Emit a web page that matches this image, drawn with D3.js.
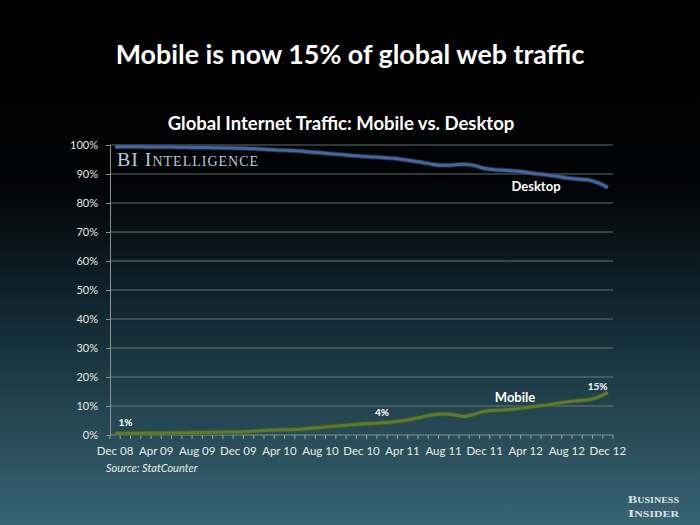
<!DOCTYPE html>
<html><head><meta charset="utf-8">
<script src="https://cdn.jsdelivr.net/npm/d3@7/dist/d3.min.js"></script>
<style>html,body{margin:0;padding:0;background:#000;}svg{display:block;}</style>
</head><body>
<script>
const months = ["Dec 08","Jan 09","Feb 09","Mar 09","Apr 09","May 09","Jun 09","Jul 09","Aug 09","Sep 09","Oct 09","Nov 09",
"Dec 09","Jan 10","Feb 10","Mar 10","Apr 10","May 10","Jun 10","Jul 10","Aug 10","Sep 10","Oct 10","Nov 10",
"Dec 10","Jan 11","Feb 11","Mar 11","Apr 11","May 11","Jun 11","Jul 11","Aug 11","Sep 11","Oct 11","Nov 11",
"Dec 11","Jan 12","Feb 12","Mar 12","Apr 12","May 12","Jun 12","Jul 12","Aug 12","Sep 12","Oct 12","Nov 12","Dec 12"];
const xTickLabels = ["Dec 08","Apr 09","Aug 09","Dec 09","Apr 10","Aug 10","Dec 10","Apr 11","Aug 11","Dec 11","Apr 12","Aug 12","Dec 12"];
const yTicks = [0,10,20,30,40,50,60,70,80,90,100];
const mobile = [0.6,0.6,0.6,0.65,0.7,0.7,0.75,0.8,0.85,0.9,0.95,1.0,
1.05,1.2,1.4,1.6,1.75,1.85,2.0,2.3,2.6,2.9,3.2,3.5,
3.8,4.0,4.2,4.5,4.9,5.5,6.3,7.0,7.2,7.0,6.4,7.2,
8.2,8.5,8.7,9.0,9.4,9.9,10.3,10.9,11.4,11.8,12.1,13.0,14.7];
const desktop = [99.4,99.4,99.4,99.35,99.3,99.3,99.25,99.2,99.15,99.1,99.05,99.0,
98.9,98.8,98.6,98.4,98.2,98.1,97.9,97.6,97.3,97.0,96.7,96.4,
96.1,95.9,95.7,95.4,95.0,94.5,93.9,93.3,93.0,93.1,93.4,92.9,
91.9,91.5,91.3,91.0,90.6,90.1,89.7,89.2,88.6,88.3,88.0,87.0,85.3];
const dataLabels = [{i:1,text:"1%"},{i:26,text:"4%"},{i:47,text:"15%"}];

const W=700,H=525;
const svg=d3.select("body").append("svg").attr("width",W).attr("height",H);
const defs=svg.append("defs");
const g=defs.append("linearGradient").attr("id","bg").attr("x1",0).attr("y1",0).attr("x2",0).attr("y2",1);
g.append("stop").attr("offset","0").attr("stop-color","#000");
g.append("stop").attr("offset","0.34").attr("stop-color","#010203");
g.append("stop").attr("offset","0.6").attr("stop-color","#122932");
g.append("stop").attr("offset","1").attr("stop-color","#386473");
svg.append("rect").attr("width",W).attr("height",H).attr("fill","url(#bg)");

const font="Lato, 'Open Sans', sans-serif";
function fitText(sel,target){const l=sel.node().getComputedTextLength();const fs=parseFloat(sel.attr("font-size"));sel.attr("font-size",fs*target/l);}

const t1=svg.append("text").attr("x",350).attr("y",64).attr("text-anchor","middle").attr("fill","#fff")
 .attr("font-family",font).attr("font-weight","bold").attr("font-size",28).text("Mobile is now 15% of global web traffic");
fitText(t1,469);
const t2=svg.append("text").attr("x",341).attr("y",130).attr("text-anchor","middle").attr("fill","#fff")
 .attr("font-family",font).attr("font-weight","bold").attr("font-size",19).text("Global Internet Traffic: Mobile vs. Desktop");
fitText(t2,347);

const x=d3.scalePoint().domain(months).range([110,613]).padding(0.5);
const y=d3.scaleLinear().domain([0,100]).range([435,145]);

// gridlines
svg.append("g").selectAll("line").data(yTicks).join("line")
 .attr("x1",110).attr("x2",613).attr("y1",d=>y(d)).attr("y2",d=>y(d))
 .attr("stroke",d=>d===0?"#9aa6aa":"#7f8789").attr("stroke-width",1.2).attr("opacity",0.8);
// y axis
const yAxis=d3.axisLeft(y).tickValues(yTicks).tickFormat(d=>d+"%").tickSize(4).tickPadding(8);
const ya=svg.append("g").attr("transform","translate(110,0)").call(yAxis);
ya.select(".domain").attr("stroke","#8a9294");
ya.selectAll(".tick line").attr("stroke","#8a9294");
ya.selectAll("text").attr("fill","#e8e8e8").attr("font-family",font).attr("font-size",11);
// x axis tick marks between categories
const step=x.step();
svg.append("g").selectAll("line").data(d3.range(months.length+1)).join("line")
 .attr("x1",k=>110+k*step).attr("x2",k=>110+k*step).attr("y1",435).attr("y2",439)
 .attr("stroke","#9aa6aa").attr("stroke-width",1);
svg.append("g").selectAll("text").data(xTickLabels).join("text")
 .attr("x",d=>x(d)).attr("y",455).attr("text-anchor","middle").attr("fill","#e8ecee")
 .attr("font-family",font).attr("font-size",11.5).text(d=>d);

// BI Intelligence watermark
const bi=svg.append("text").attr("x",117).attr("y",166).attr("fill","#b8c7da")
 .attr("font-family","'Liberation Serif', 'DejaVu Serif', serif").attr("font-size",17)
 .style("font-variant","small-caps").attr("letter-spacing",1).text("BI Intelligence");
fitText(bi,145);

// lines
const line=d3.line().x((d,i)=>x(months[i])).y(d=>y(d)).curve(d3.curveMonotoneX);
svg.append("path").datum(desktop).attr("d",line).attr("fill","none").attr("stroke","#2c4670").attr("stroke-width",5).attr("opacity",0.6);
svg.append("path").datum(desktop).attr("d",line).attr("fill","none").attr("stroke","#47669a").attr("stroke-width",3);
svg.append("path").datum(mobile).attr("d",line).attr("fill","none").attr("stroke","#3f5a22").attr("stroke-width",5).attr("opacity",0.7);
svg.append("path").datum(mobile).attr("d",line).attr("fill","none").attr("stroke","#5e7a30").attr("stroke-width",3);

// data labels
svg.append("g").selectAll("text").data(dataLabels).join("text")
 .attr("x",d=>x(months[d.i])).attr("y",d=>y(mobile[d.i])-7).attr("text-anchor","middle")
 .attr("fill","#fff").attr("font-family",font).attr("font-weight","bold").attr("font-size",10).text(d=>d.text);

svg.append("text").attr("x",536).attr("y",191).attr("text-anchor","middle").attr("fill","#fff")
 .attr("font-family",font).attr("font-weight","bold").attr("font-size",13).text("Desktop");
svg.append("text").attr("x",515).attr("y",402).attr("text-anchor","middle").attr("fill","#fff")
 .attr("font-family",font).attr("font-weight","bold").attr("font-size",13).text("Mobile");

svg.append("text").attr("x",106).attr("y",472).attr("fill","#e6ecee").attr("font-family",font)
 .attr("font-style","italic").attr("font-size",11).text("Source: StatCounter");

// Business Insider logo
const biz=svg.append("g").attr("font-family","'Liberation Serif', 'DejaVu Serif', serif").attr("font-weight","bold")
 .attr("fill","#dde2e5").style("font-variant","small-caps").attr("font-size",11);
biz.append("text").attr("x",628).attr("y",503).attr("textLength",51).attr("lengthAdjust","spacingAndGlyphs").text("Business");
biz.append("text").attr("x",628).attr("y",517).attr("textLength",51).attr("lengthAdjust","spacingAndGlyphs").text("Insider");
</script>
</body></html>
